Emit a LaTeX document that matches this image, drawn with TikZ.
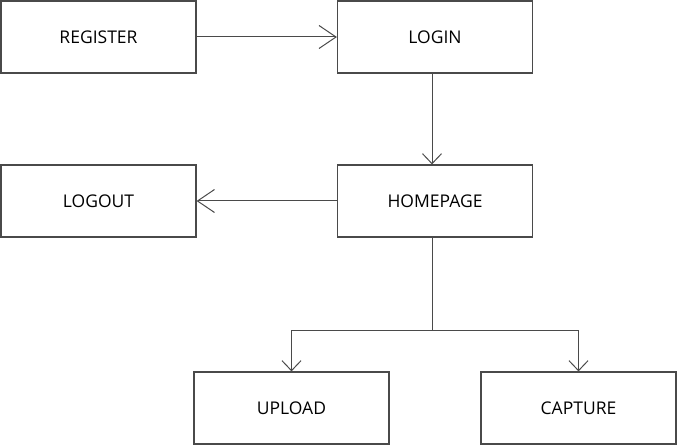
\documentclass[tikz,border=0pt]{standalone}
\usepackage{fontspec}
\setmainfont{Open Sans}
\usetikzlibrary{arrows.meta}
\definecolor{edge}{HTML}{4A4A4A}
\begin{document}
\begin{tikzpicture}[x=1pt,y=-1pt,
  box/.style={draw=edge,line width=1.2pt,minimum width=195pt,minimum height=72pt,inner sep=0pt,font=\fontsize{17.5}{20}\selectfont,text=black},
  conn/.style={draw=edge,line width=1pt},
  tipH/.style={-{Straight Barb[length=17pt,width=23pt,line width=1pt]}},
  tipV/.style={-{Straight Barb[length=10pt,width=19pt,line width=1pt]}}]
\useasboundingbox (0,0) rectangle (678,446);
\node[box] (register) at (98.5,37) {REGISTER};
\node[box] (login) at (435,37) {LOGIN};
\node[box] (logout) at (98.5,201) {LOGOUT};
\node[box] (home) at (435,201) {HOMEPAGE};
\node[box] (upload) at (291.5,408) {UPLOAD};
\node[box] (capture) at (578.5,408) {CAPTURE};
\coordinate (split) at (432,331);
\draw[conn,tipH] (register.east) -- (login.west);
\draw[conn,tipV] (login.south -| split) -- (home.north -| split);
\draw[conn,tipH] (home.west) -- (logout.east);
\draw[conn] (home.south -| split) -- (split);
\draw[conn,tipV] (split) -| (upload.north);
\draw[conn,tipV] (split) -| (capture.north);
\end{tikzpicture}
\end{document}
